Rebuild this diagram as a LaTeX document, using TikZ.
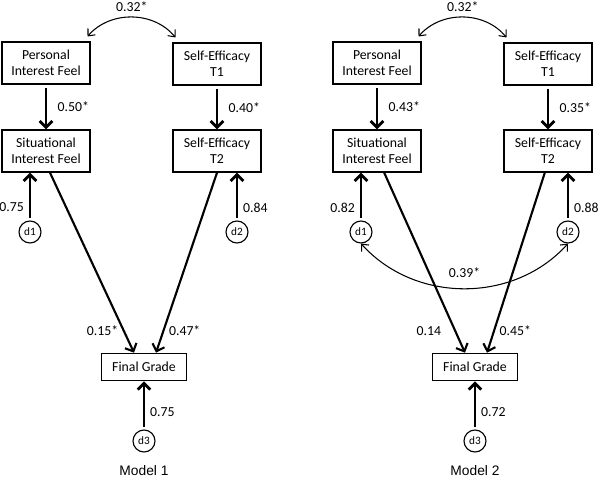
\documentclass[tikz,border=0pt]{standalone}
\usepackage{fontspec}
\setmainfont{Carlito}
\newfontfamily\modelfont{Liberation Sans}
\usepackage{tikz}
\usetikzlibrary{positioning, arrows.meta, calc}

\begin{document}
\begin{tikzpicture}[
    x=0.025cm, y=-0.025cm,
    box/.style={rectangle, draw, line width=1pt, minimum width=2.2cm, minimum height=1.05cm,
                align=center, inner sep=2pt, font=\fontsize{9.8}{11.2}\selectfont},
    err/.style={circle, draw, line width=0.8pt, minimum size=0.55cm, inner sep=0pt,
                font=\fontsize{8}{9}\selectfont},
    effect/.style={-{Straight Barb[length=4.5pt,width=9pt]}, line width=2pt, shorten <=2pt},
    slope/.style={-{Straight Barb[length=4.5pt,width=9pt]}, line width=1.5pt},
    cov/.style={{Straight Barb[length=4pt,width=7pt]}-{Straight Barb[length=4pt,width=7pt]}, line width=0.75pt},
    coef/.style={font=\fontsize{9.8}{11}\selectfont},
    title/.style={font=\modelfont\fontsize{9.8}{11}\selectfont}
]
\useasboundingbox (0,0) rectangle (600,479);

% Model 1
\node[box] (m1pi) at (46,63) {Personal\\Interest Feel};
\node[box] (m1se1) at (217,64) {Self-Efficacy\\T1};
\node[box] (m1si) at (46,151) {Situational\\Interest Feel};
\node[box] (m1se2) at (217,151) {Self-Efficacy\\T2};
\node[box, minimum width=2.12cm, minimum height=0.68cm] (m1fg) at (144,367) {Final Grade};
\node[err] (m1d1) at (30,232) {d1};
\node[err] (m1d2) at (237,232) {d2};
\node[err] (m1d3) at (144,441) {d3};
\node[title] (m1title) at (144,471) {Model 1};

\draw[cov] ([xshift=-0.08cm,yshift=0.12cm]m1pi.north east) to[bend left=50] node[midway, above, coef] {0.32*} ([xshift=0.08cm,yshift=0.12cm]m1se1.north west);
\draw[effect] (m1pi) -- (m1si) node[midway, right=4pt, coef] {0.50*};
\draw[effect] (m1se1) -- (m1se2) node[midway, right=4pt, coef] {0.40*};
\draw[effect] (m1d1) -- (m1d1 |- m1si.south) node[pos=0.27, left, coef] {0.75};
\draw[effect] (m1d2) -- (m1d2 |- m1se2.south) node[pos=0.27, right, coef] {0.84};
\draw[slope] ([xshift=0.1cm]m1si.south) -- ([xshift=-0.25cm]m1fg.north) node[pos=0.88, left, coef] {0.15*};
\draw[slope] (m1se2.south) -- ([xshift=0.3cm]m1fg.north) node[pos=0.88, right, coef] {0.47*};
\draw[effect] (m1d3) -- (m1fg) node[pos=0.37, right, coef] {0.75};

% Model 2
\node[box] (m2pi) at (377,63) {Personal\\Interest Feel};
\node[box] (m2se1) at (548,64) {Self-Efficacy\\T1};
\node[box] (m2si) at (377,151) {Situational\\Interest Feel};
\node[box] (m2se2) at (548,151) {Self-Efficacy\\T2};
\node[box, minimum width=2.12cm, minimum height=0.68cm] (m2fg) at (475,367) {Final Grade};
\node[err] (m2d1) at (361,232) {d1};
\node[err] (m2d2) at (568,232) {d2};
\node[err] (m2d3) at (475,441) {d3};
\node[title] (m2title) at (475,471) {Model 2};

\draw[cov] ([xshift=-0.08cm,yshift=0.12cm]m2pi.north east) to[bend left=50] node[midway, above, coef] {0.32*} ([xshift=0.08cm,yshift=0.12cm]m2se1.north west);
\draw[effect] (m2pi) -- (m2si) node[midway, right=4pt, coef] {0.43*};
\draw[effect] (m2se1) -- (m2se2) node[midway, right=4pt, coef] {0.35*};
\draw[effect] (m2d1) -- (m2d1 |- m2si.south) node[pos=0.27, left, coef] {0.82};
\draw[effect] (m2d2) -- (m2d2 |- m2se2.south) node[pos=0.27, right, coef] {0.88};
\draw[cov] (m2d1.south) to[bend right=48] node[midway, above=4pt, coef] {0.39*} (m2d2.south);
\draw[slope] ([xshift=0.18cm]m2si.south) -- ([xshift=-0.25cm]m2fg.north) node[pos=0.88, left=6pt, coef] {0.14};
\draw[slope] ([xshift=-0.08cm]m2se2.south) -- ([xshift=0.3cm]m2fg.north) node[pos=0.88, right, coef] {0.45*};
\draw[effect] (m2d3) -- (m2fg) node[pos=0.37, right, coef] {0.72};
\end{tikzpicture}
\end{document}
